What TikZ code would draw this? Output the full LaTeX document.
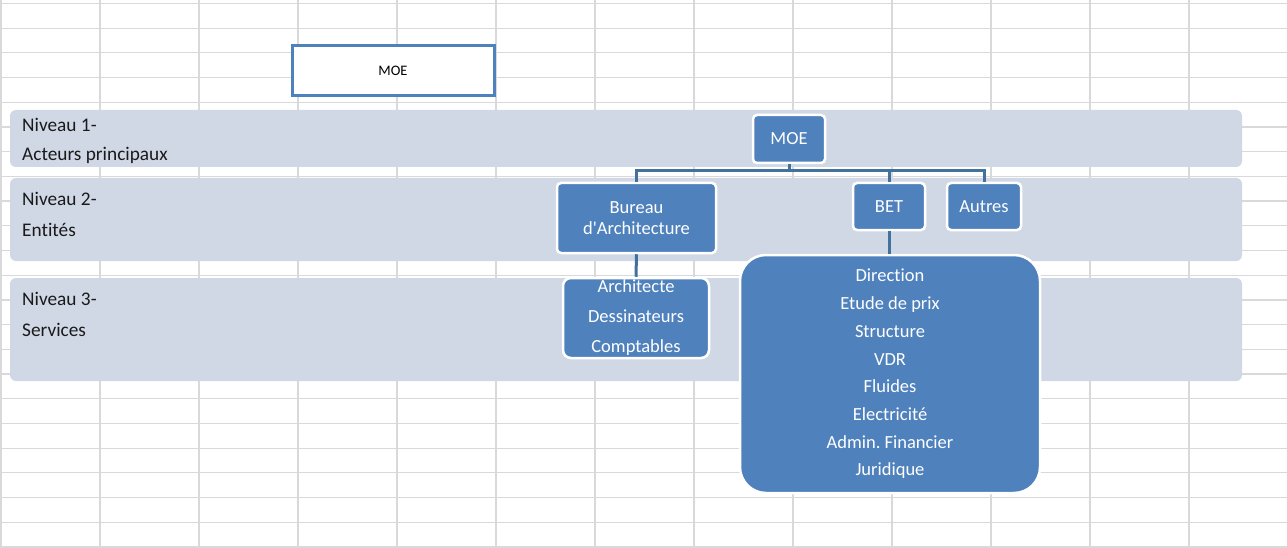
\documentclass[tikz,border=0pt]{standalone}
\usepackage{fontspec}
\setmainfont{Carlito}[Ligatures={TeX,NoCommon}]
\frenchspacing
\definecolor{nodeblue}{HTML}{4F81BD}
\definecolor{connblue}{HTML}{41719C}
\definecolor{bandgray}{HTML}{D0D8E6}
\definecolor{gridgray}{HTML}{D9D9D9}
\definecolor{labeltext}{HTML}{1A1A1A}
\tikzset{
  band/.style={fill=bandgray, draw=none, rounded corners=6pt},
  bluebox/.style={fill=nodeblue, draw=white, line width=2.5pt, rounded corners=4pt,
    text=white, font=\fontsize{18.5}{22}\selectfont, align=center, inner sep=0pt},
  conn/.style={draw=connblue, line width=3pt},
  lvl/.style={anchor=west, inner sep=0pt, text=labeltext, font=\fontsize{19.3}{22}\selectfont},
  gridline/.style={draw=gridgray, line width=1.2pt}
}
\begin{document}
\begin{tikzpicture}[x=1pt,y=-1pt]
\useasboundingbox (0,0) rectangle (1287,548);
\fill[white] (0,0) rectangle (1287,548);
% spreadsheet grid
\foreach \k in {0,...,13} \draw[gridline] ({1+99*\k},0) -- ({1+99*\k},548);
\foreach \k in {0,...,22} \draw[gridline] (0,{3.5+24.7*\k}) -- (1287,{3.5+24.7*\k});
% top MOE box
\node[draw=nodeblue, line width=3pt, fill=white, minimum width=202pt, minimum height=50pt,
  inner sep=0pt, font=\fontsize{14.5}{16}\selectfont] (topmoe) at (393,71) {MOE};
% bands
\fill[band] (10,110) rectangle (1242,167);
\fill[band] (10,178) rectangle (1242,261);
\fill[band] (10,278) rectangle (1242,381);
% band labels
\node[lvl] (n1a) at (22,125) {Niveau 1-};
\node[lvl] (n1b) at (22,155) {Acteurs principaux};
\node[lvl] (n2a) at (22,199) {Niveau 2-};
\node[lvl] (n2b) at (22,230) {Entités};
\node[lvl] (n3a) at (22,299) {Niveau 3-};
\node[lvl] (n3b) at (22,330) {Services};
% org chart nodes
\coordinate (bus) at (789,171);
\node[bluebox, minimum width=72pt, minimum height=48pt] (moe) at (789,139) {MOE};
\node[bluebox, minimum width=159pt, minimum height=70pt] (bur) at (636.5,218) {Bureau\\[-1pt]d\textquotesingle Architecture};
\node[bluebox, minimum width=72pt, minimum height=47pt] (bet) at (889,206.5) {BET};
\node[bluebox, minimum width=74pt, minimum height=47pt] (aut) at (984,206.5) {Autres};
% connectors
\draw[conn] (moe.south) -- (moe.south |- bus) -| (bur.north);
\draw[conn] (moe.south |- bus) -| (bet.north);
\draw[conn] (moe.south |- bus) -| (aut.north);
% service boxes
\node[bluebox, rounded corners=8pt, minimum width=146pt, minimum height=80pt,
  font=\fontsize{18.5}{30}\selectfont] (arch) at (636,318) {Architecte\\Dessinateurs\\Comptables};
\node[bluebox, rounded corners=26pt, minimum width=300pt, minimum height=238pt,
  font=\fontsize{18.5}{27.7}\selectfont] (bets) at (890,374)
  {Direction\\Etude de prix\\Structure\\VDR\\Fluides\\Electricité\\Admin. Financier\\Juridique};
\draw[conn] (bur.south) -- (arch.north);
\draw[conn] (bet.south) -- (bet.south |- bets.north);
\end{tikzpicture}
\end{document}
